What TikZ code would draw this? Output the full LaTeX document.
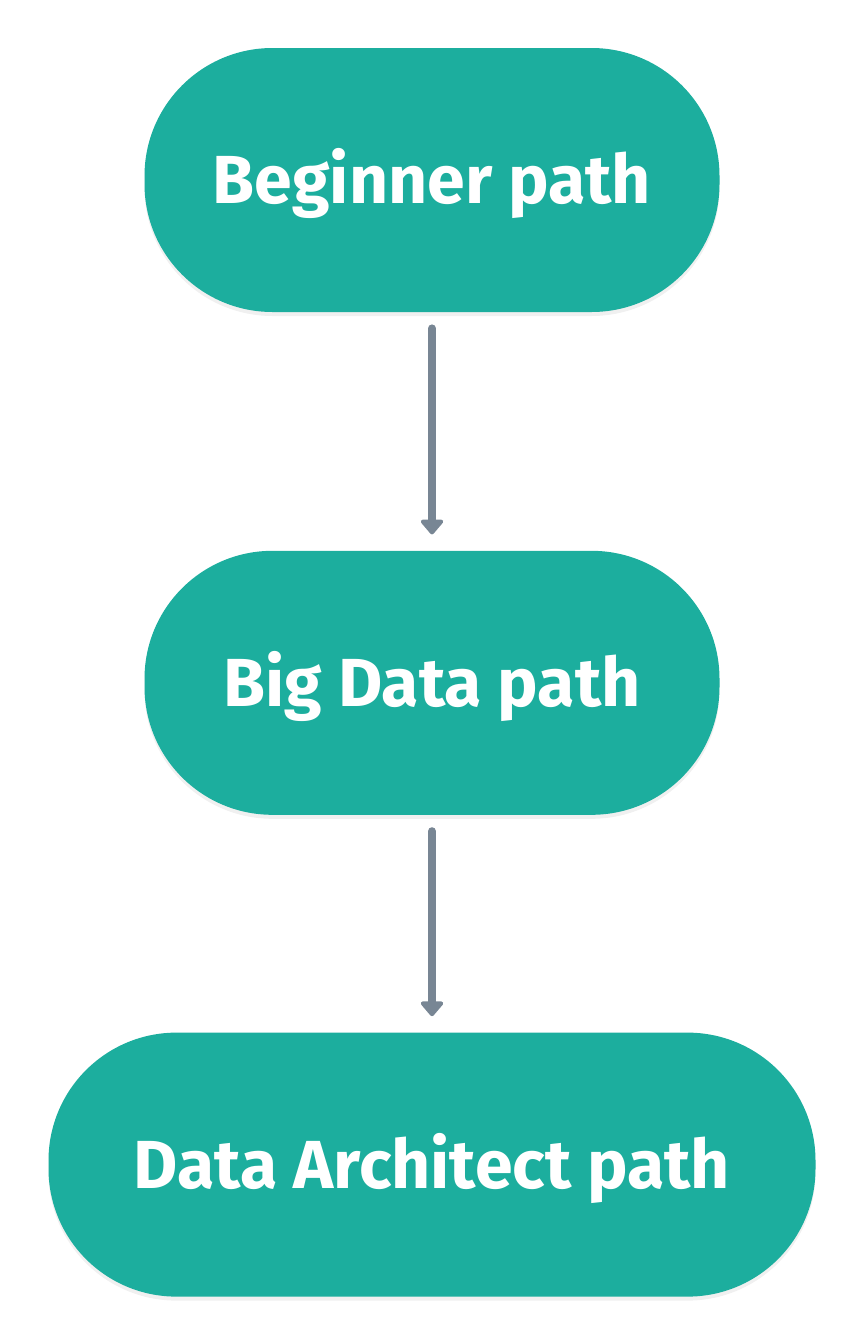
\documentclass[tikz,border=0pt]{standalone}
\usepackage{fontspec}
\setmainfont{Fira Sans}
\usetikzlibrary{positioning,arrows.meta,shadows}

\definecolor{pathteal}{HTML}{1CAE9E}
\definecolor{arrowgray}{HTML}{788694}

\tikzset{
  basic/.style  = {rectangle, fill=pathteal, text=white, align=center,
                   minimum height=132pt, text height=23.5pt, text depth=0pt,
                   font=\fontsize{34}{40}\selectfont\bfseries,
                   drop shadow={opacity=0.12, shadow xshift=0pt, shadow yshift=-2pt}},
  track/.style  = {basic, minimum width=287.5pt, rounded corners=64pt},
  wide/.style   = {basic, minimum width=383.5pt, rounded corners=64pt},
  link/.style   = {-{Triangle[round, width=13pt, length=8pt]}, line width=4pt,
                   line cap=round, draw=arrowgray}
}

\begin{document}
\begin{tikzpicture}[node distance=119pt]

\useasboundingbox (0,0) rectangle (432pt,-672pt);

\node[track] (beginner) at (216pt,-90pt) {Beginner path};

% the two later steps, placed below the first one
\node[track, below=119pt of beginner] (bigdata) {Big Data path};
\node[wide, below=108.5pt of bigdata] (architect) {Data Architect path};

\draw[link] ([yshift=-8pt]beginner.south) -- ([yshift=8pt]bigdata.north);
\draw[link] ([yshift=-8pt]bigdata.south) -- ([yshift=8pt]architect.north);

\end{tikzpicture}
\end{document}
